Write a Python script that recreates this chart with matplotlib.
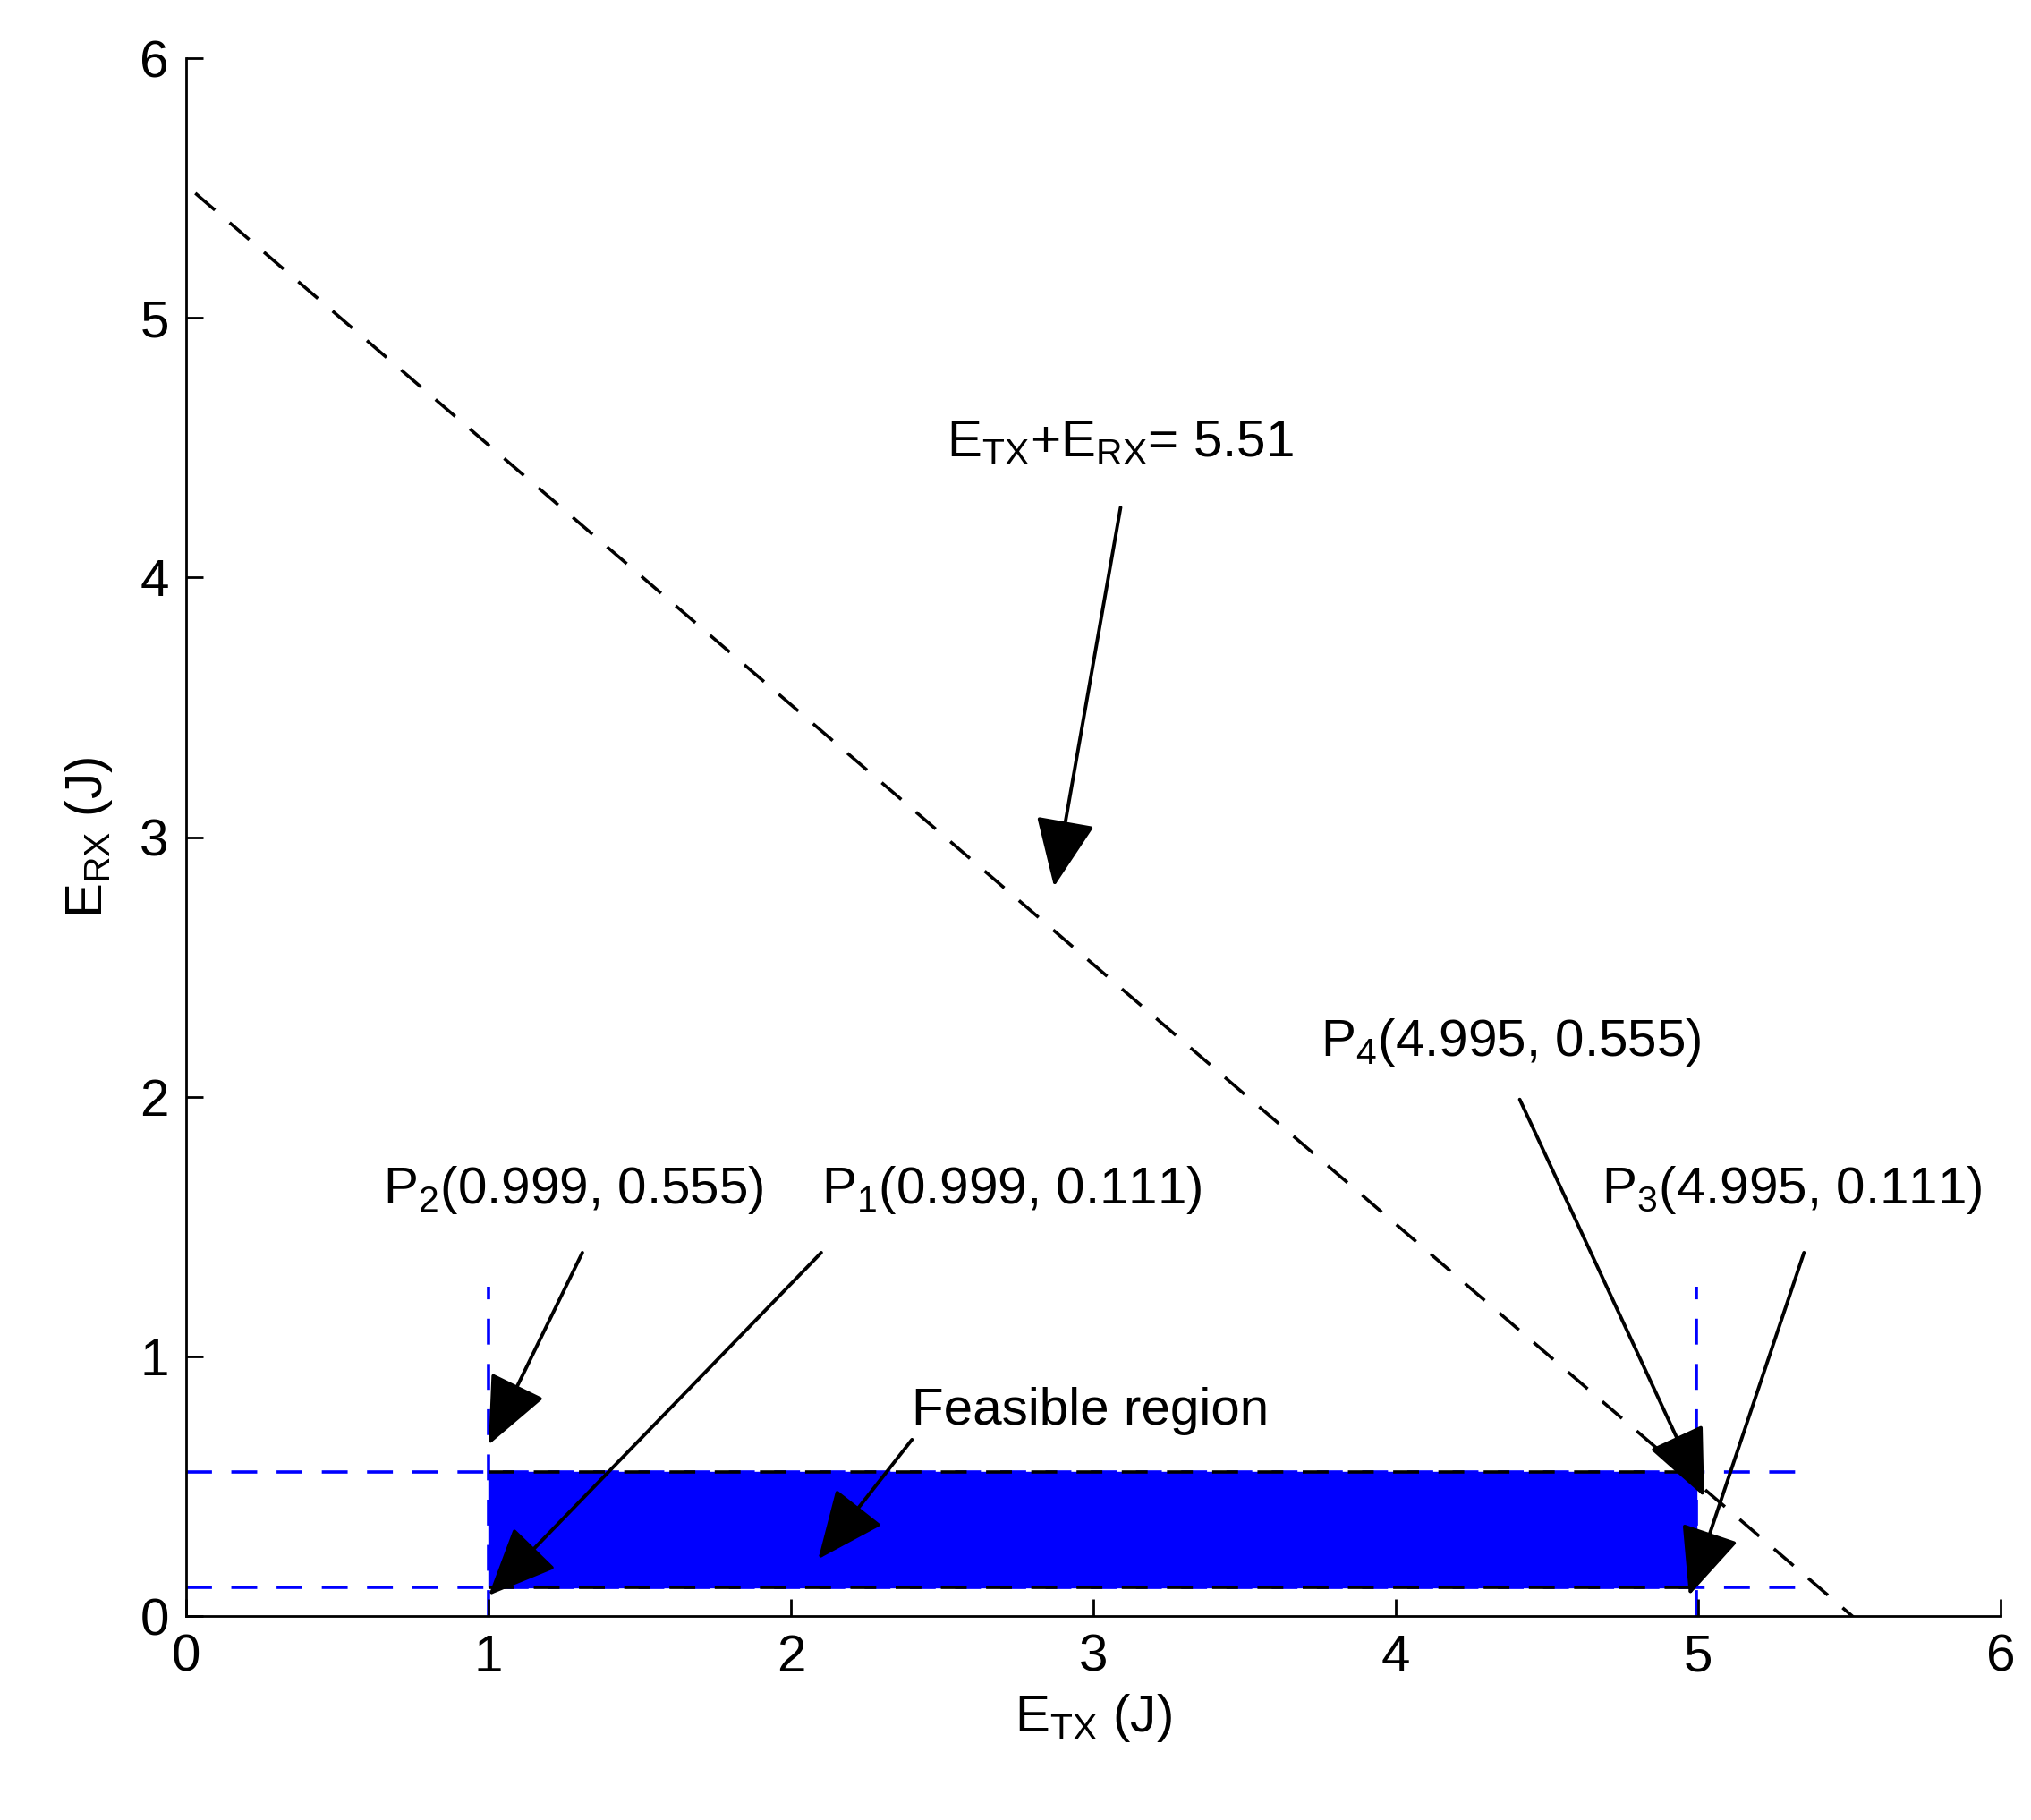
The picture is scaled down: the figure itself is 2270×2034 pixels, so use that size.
import matplotlib
matplotlib.use("Agg")
import matplotlib.pyplot as plt
import numpy as np

plt.rcParams['font.family'] = ['Liberation Sans', 'DejaVu Sans']
plt.rcParams['mathtext.fontset'] = 'custom'
plt.rcParams['mathtext.rm'] = 'Liberation Sans'

total = 5.51
x_lo, x_hi = 0.999, 4.995
y_lo, y_hi = 0.111, 0.555
line_x = [0.03, 5.55]

fig = plt.figure(figsize=(22.7, 20.34), dpi=100)
ax = fig.add_axes([0.0917, 0.112, 0.8933, 0.856])
fs = 42
lw = 2.6

lx = np.array(line_x)
ax.plot(lx, total - lx, 'k', ls=(0, (8, 6)), lw=lw)
ax.fill([x_lo, x_hi, x_hi, x_lo], [y_lo, y_lo, y_hi, y_hi], color='#0000ff', zorder=2)
ax.plot([x_lo, x_hi], [y_hi, y_hi], 'k', ls=(0, (8, 6)), lw=lw, zorder=3)
ax.plot([x_lo, x_hi], [y_lo, y_lo], 'k', ls=(0, (8, 6)), lw=lw, zorder=3)
for yv in (y_lo, y_hi):
    ax.plot([0, 5.35], [yv, yv], color='#0000ff', ls=(0, (8, 6)), lw=lw, zorder=1)
for xv in (x_lo, x_hi):
    ax.plot([xv, xv], [0, 1.27], color='#0000ff', ls=(0, (8, 6)), lw=lw, zorder=1)

ap = dict(arrowstyle='-|>,head_length=0.8,head_width=0.35', mutation_scale=60,
          color='k', lw=2.8, shrinkA=0, shrinkB=0)
ann = [
    (r'$\mathregular{E_{TX}}$+$\mathregular{E_{RX}}$= 5.51', (2.87, 2.81), (3.09, 4.27), (3.09, 4.52), 'center'),
    (r'$\mathregular{P_2}$(0.999, 0.555)', (1.0, 0.66), (1.31, 1.40), (0.65, 1.64), 'left'),
    (r'$\mathregular{P_1}$(0.999, 0.111)', (1.0, 0.08), (2.10, 1.40), (2.10, 1.64), 'left'),
    (r'$\mathregular{P_4}$(4.995, 0.555)', (5.02, 0.46), (4.41, 1.99), (3.75, 2.21), 'left'),
    (r'$\mathregular{P_3}$(4.995, 0.111)', (4.97, 0.08), (5.35, 1.40), (4.68, 1.64), 'left'),
    ('Feasible region', (2.09, 0.22), (2.40, 0.68), (2.40, 0.79), 'left'),
]
for txt, tip, tail, tpos, ha in ann:
    ax.annotate('', xy=tip, xytext=tail, arrowprops=ap, zorder=5)
    ax.text(tpos[0], tpos[1], txt, fontsize=fs, ha=ha, va='center')

ax.set_xlim(0, 6)
ax.set_ylim(0, 6)
ax.set_xticks(range(7))
ax.set_yticks(range(7))
ax.tick_params(labelsize=fs, direction='in', length=14, width=2, pad=14)
for s in ('top', 'right'):
    ax.spines[s].set_visible(False)
for s in ('left', 'bottom'):
    ax.spines[s].set_linewidth(2)
ax.set_xlabel(r'$\mathregular{E_{TX}}$ (J)', fontsize=fs, labelpad=8)
ax.set_ylabel(r'$\mathregular{E_{RX}}$ (J)', fontsize=fs, labelpad=20)
fig.savefig('out.png', dpi=100)
